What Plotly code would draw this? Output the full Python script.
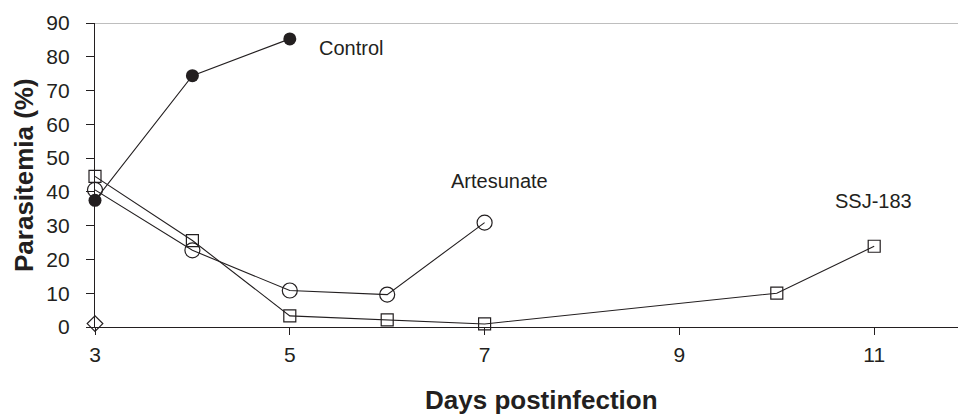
import plotly.graph_objects as go

# Data
control_days = [3, 4, 5]
control_vals = [37.5, 74.4, 85.3]

artesunate_days = [3, 4, 5, 6, 7]
artesunate_vals = [40.6, 22.7, 10.8, 9.6, 30.9]

ssj_days = [3, 4, 5, 6, 7, 10, 11]
ssj_vals = [44.6, 25.6, 3.3, 2.1, 0.9, 10.0, 23.9]

diamond_days = [3]
diamond_vals = [1.0]

x_ticks = [3, 5, 7, 9, 11]
y_ticks = [0, 10, 20, 30, 40, 50, 60, 70, 80, 90]

labels = ["Control", "Artesunate", "SSJ-183"]
label_x = [5.63, 7.15, 10.99]
label_y = [82.5, 43.3, 37.4]

FONT = "Liberation Sans, Arial, sans-serif"
INK = "#231f20"

fig = go.Figure()

fig.add_trace(go.Scatter(
    x=artesunate_days, y=artesunate_vals, mode="lines+markers", name="Artesunate",
    line=dict(color=INK, width=1.1),
    marker=dict(symbol="circle-open", size=15, color=INK, line=dict(width=1.2, color=INK)),
    cliponaxis=False,
))
fig.add_trace(go.Scatter(
    x=ssj_days, y=ssj_vals, mode="lines+markers", name="SSJ-183",
    line=dict(color=INK, width=1.1),
    marker=dict(symbol="square-open", size=12, color=INK, line=dict(width=1.2, color=INK)),
    cliponaxis=False,
))
fig.add_trace(go.Scatter(
    x=control_days, y=control_vals, mode="lines+markers", name="Control",
    line=dict(color=INK, width=1.1),
    marker=dict(symbol="circle", size=13, color=INK),
    cliponaxis=False,
))
fig.add_trace(go.Scatter(
    x=diamond_days, y=diamond_vals, mode="markers", name="Other",
    marker=dict(symbol="diamond-open", size=12, color=INK, line=dict(width=1.2, color=INK)),
    cliponaxis=False,
))

for t, xv, yv in zip(labels, label_x, label_y):
    fig.add_annotation(x=xv, y=yv, xref="x", yref="y", text=t, showarrow=False,
                       font=dict(family=FONT, size=20, color=INK),
                       xanchor="center", yanchor="middle")

# Axis titles
fig.add_annotation(x=(541 - 95) / 863, y=-0.24, xref="paper", yref="paper",
                   text="<b>Days postinfection</b>", showarrow=False,
                   font=dict(family=FONT, size=26, color=INK),
                   xanchor="center", yanchor="middle")
fig.add_annotation(x=-(95 - 24) / 863, y=0.5, xref="paper", yref="paper",
                   text="<b>Parasitemia (%)</b>", showarrow=False, textangle=-90,
                   font=dict(family=FONT, size=26, color=INK),
                   xanchor="center", yanchor="middle")

# Grey top line at y = 90
fig.add_shape(type="line", xref="paper", yref="y", x0=0, x1=1, y0=90, y1=90,
              line=dict(color="#a8a8a8", width=1.5), layer="below")

fig.update_layout(
    width=958, height=415,
    margin=dict(l=95, r=0, t=23, b=88),
    paper_bgcolor="white", plot_bgcolor="white",
    showlegend=False,
    font=dict(family=FONT, size=21, color=INK),
    xaxis=dict(
        range=[3, 3 + 863 / 97.4], tickmode="array", tickvals=x_ticks,
        ticktext=[str(v) for v in x_ticks],
        showgrid=False, zeroline=False, showline=True, linecolor=INK, linewidth=1.3,
        ticks="outside", ticklen=7, tickwidth=1.2, tickcolor=INK,
        tickfont=dict(family=FONT, size=21, color=INK), ticklabelstandoff=2,
    ),
    yaxis=dict(
        range=[0, 90], tickmode="array", tickvals=y_ticks,
        ticktext=[str(v) for v in y_ticks],
        showgrid=False, zeroline=False, showline=True, linecolor=INK, linewidth=1.3,
        ticks="outside", ticklen=8, tickwidth=1.2, tickcolor=INK,
        tickfont=dict(family=FONT, size=21, color=INK), ticklabelstandoff=12,
    ),
)

fig.write_html(
    "out.html",
    config={"displayModeBar": False},
    post_script="document.body.style.margin='0';document.body.style.overflow='hidden';",
)
